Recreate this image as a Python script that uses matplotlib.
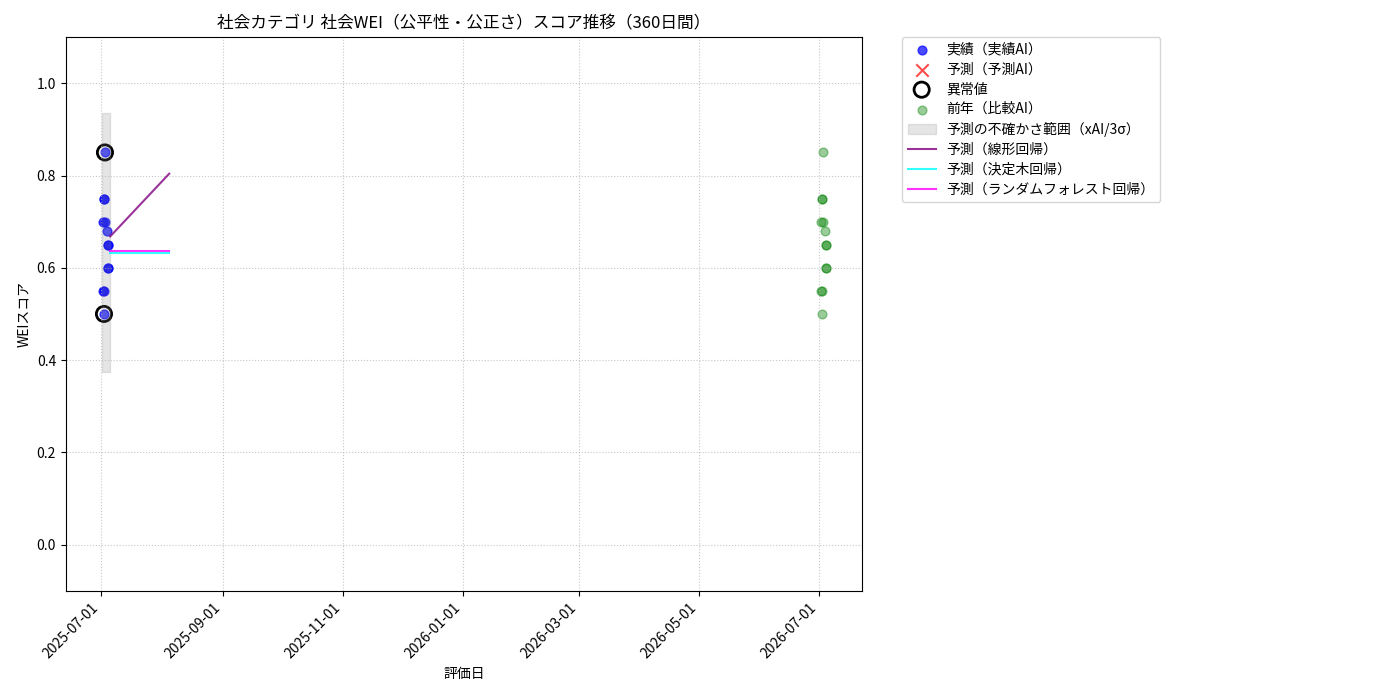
import matplotlib
matplotlib.use('Agg')
import matplotlib.pyplot as plt
import matplotlib.dates as mdates
import pandas as pd

plt.rcParams['font.family'] = ['Noto Sans CJK JP', 'DejaVu Sans']

# actual scores (実績AI)
actual_dates = pd.to_datetime([
    '2025-07-03 00:00', '2025-07-02 08:00', '2025-07-02 16:00',
    '2025-07-02 00:00', '2025-07-03 00:00', '2025-07-04 04:00',
    '2025-07-04 08:00', '2025-07-04 16:00', '2025-07-04 08:00',
    '2025-07-04 16:00', '2025-07-02 00:00', '2025-07-02 08:00',
    '2025-07-02 12:00',
])
actual_vals = [0.85, 0.75, 0.75, 0.70, 0.70, 0.68, 0.65, 0.65, 0.60, 0.60, 0.55, 0.55, 0.50]

# anomalies
anom_dates = pd.to_datetime(['2025-07-03 00:00', '2025-07-02 12:00'])
anom_vals = [0.85, 0.50]

# uncertainty band (3 sigma)
band_dates = pd.to_datetime(['2025-07-01 12:00', '2025-07-05 08:00'])
band_low = [0.374, 0.374]
band_high = [0.936, 0.936]

# forecasts
fc_dates = pd.to_datetime(['2025-07-05 16:00', '2025-08-04 16:00'])
fc_linear = [0.668, 0.804]
fc_tree = [0.633, 0.633]
fc_forest = [0.636, 0.636]

# previous year (比較AI), same scores one year later on the chart
prev_dates = actual_dates + pd.Timedelta(days=365)
prev_vals = actual_vals

fig, ax = plt.subplots(figsize=(14, 7), dpi=100)
fig.subplots_adjust(left=0.047, right=0.616, top=0.947, bottom=0.156)

ax.scatter(actual_dates, actual_vals, color='blue', alpha=0.7, s=40, label='実績（実績AI）')
ax.scatter([], [], color='red', marker='x', alpha=0.7, s=80, label='予測（予測AI）')
ax.scatter(anom_dates, anom_vals, facecolors='none', edgecolors='black', s=120, linewidths=2, label='異常値')
ax.scatter(prev_dates, prev_vals, color='green', alpha=0.4, s=40, label='前年（比較AI）')
ax.fill_between(band_dates, band_low, band_high, color='gray', alpha=0.2, label='予測の不確かさ範囲（xAI/3σ）')
ax.plot(fc_dates, fc_linear, color='purple', alpha=0.8, label='予測（線形回帰）')
ax.plot(fc_dates, fc_tree, color='cyan', alpha=0.8, label='予測（決定木回帰）')
ax.plot(fc_dates, fc_forest, color='magenta', alpha=0.8, label='予測（ランダムフォレスト回帰）')

ax.set_ylim(-0.1, 1.1)
ax.set_yticks([0.0, 0.2, 0.4, 0.6, 0.8, 1.0])
ax.xaxis.set_major_locator(mdates.MonthLocator(bymonth=[1, 3, 5, 7, 9, 11]))
ax.xaxis.set_major_formatter(mdates.DateFormatter('%Y-%m-%d'))
plt.setp(ax.get_xticklabels(), rotation=45, ha='right')
ax.grid(True, linestyle=':', alpha=0.7)

ax.set_title('社会カテゴリ 社会WEI（公平性・公正さ）スコア推移（360日間）', fontsize=12)
ax.set_xlabel('評価日')
ax.set_ylabel('WEIスコア')
ax.legend(bbox_to_anchor=(1.05, 1), loc='upper left', borderaxespad=0, labelspacing=0.42)

fig.savefig('out.png')
